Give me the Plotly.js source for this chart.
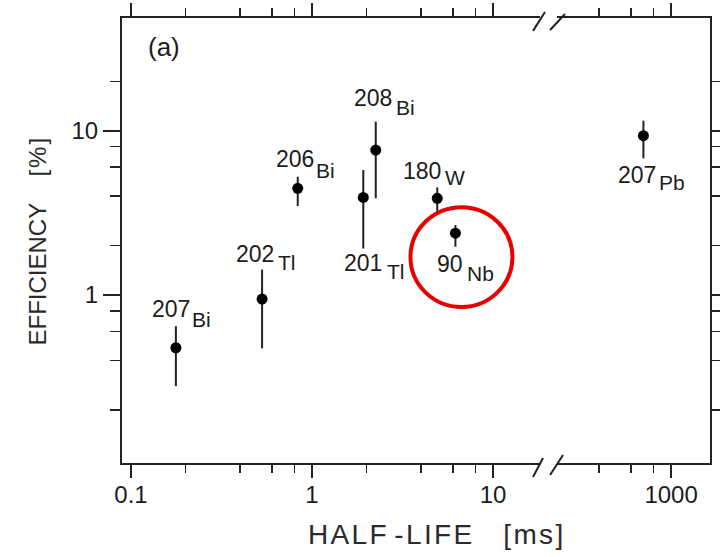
<!DOCTYPE html>
<html>
<head>
<meta charset="utf-8">
<script src="https://cdn.plot.ly/plotly-3.0.1.min.js"></script>
<style>
  html, body { margin: 0; padding: 0; background: #fff; }
  #chart { width: 720px; height: 557px; }
</style>
</head>
<body>
<div id="chart"></div>
<script>
// Isotopes, half-lives [ms] and efficiencies [%] with error-bar bounds
const massNumber = ['207', '202', '206', '201', '208', '180', '90', '207'];
const element    = ['Bi', 'Tl', 'Bi', 'Tl', 'Bi', 'W', 'Nb', 'Pb'];
const halfLife   = [0.177, 0.53, 0.834, 1.92, 2.25, 4.92, 6.2, 703];
const efficiency = [0.478, 0.946, 4.46, 3.93, 7.63, 3.88, 2.38, 9.33];
const effUpper   = [0.647, 1.43, 5.25, 5.77, 11.35, 4.52, 2.67, 11.5];
const effLower   = [0.279, 0.474, 3.48, 1.92, 3.88, 3.15, 1.97, 6.79];

// Axis ticks
const xMajorLeft  = [0.1, 1, 10];
const xMinorLeft  = [0.2, 0.4, 0.6, 0.8, 2, 4, 6, 8];
const xMajorRight = [1000];
const xMinorRight = [400, 600, 800];
const yMajor      = [1, 10];
const yMinor      = [0.2, 0.4, 0.6, 0.8, 2, 4, 6, 8, 20];

// Label placement in pixels relative to each point: mass number (right edge, centre)
// and element symbol (left edge, centre)
const numOffset = [[15, -39], [13, -45], [17, -29], [20, 66], [17, -52], [5, -27], [9, 31], [14, 39]];
const symOffset = [[15, -28], [15, -37], [17, -18], [23, 74], [19, -43], [7, -21], [11, 40], [15, 47]];

// The x axis is broken between the two decades shown
const breakAt = 20;

const FONT = 'Liberation Sans, Arial, sans-serif';
const INK = '#1c1c1c';

// letter-spaced caption text
const HS = '\u200A';
const spaced = s => s.split('').join(HS);

function subset(pred) {
  const idx = halfLife.map((v, i) => i).filter(i => pred(halfLife[i]));
  return {
    x: idx.map(i => halfLife[i]),
    y: idx.map(i => efficiency[i]),
    up: idx.map(i => effUpper[i] - efficiency[i]),
    dn: idx.map(i => efficiency[i] - effLower[i])
  };
}

function pointTrace(s, xa, ya) {
  return {
    type: 'scatter', mode: 'markers', x: s.x, y: s.y, xaxis: xa, yaxis: ya,
    marker: { color: '#000', size: 11 },
    error_y: { type: 'data', symmetric: false, array: s.up, arrayminus: s.dn,
               color: '#222', thickness: 2, width: 0 },
    hoverinfo: 'x+y', showlegend: false
  };
}

const left = subset(v => v < breakAt);
const right = subset(v => v >= breakAt);

const data = [pointTrace(left, 'x', 'y'), pointTrace(right, 'x2', 'y2')];

const annotations = [];
halfLife.forEach((hl, i) => {
  const xr = hl < breakAt ? 'x' : 'x2';
  const yr = hl < breakAt ? 'y' : 'y2';
  annotations.push({
    xref: xr, yref: yr, x: Math.log10(hl), y: Math.log10(efficiency[i]),
    text: massNumber[i], showarrow: false, xanchor: 'right', yanchor: 'middle',
    xshift: numOffset[i][0], yshift: -numOffset[i][1], borderpad: 0,
    font: { family: FONT, size: 23, color: INK }
  });
  annotations.push({
    xref: xr, yref: yr, x: Math.log10(hl), y: Math.log10(efficiency[i]),
    text: element[i], showarrow: false, xanchor: 'left', yanchor: 'middle',
    xshift: symOffset[i][0], yshift: -symOffset[i][1], borderpad: 0,
    font: { family: FONT, size: 21, color: INK }
  });
});

// Panel tag and axis titles
annotations.push({
  xref: 'paper', yref: 'paper', x: 0.0714, y: 0.935, xanchor: 'center', yanchor: 'middle',
  text: '(a)', showarrow: false, font: { family: FONT, size: 26, color: INK }
});
annotations.push({
  xref: 'paper', yref: 'paper', x: 0.534, y: -0.16, xanchor: 'center', yanchor: 'middle',
  text: spaced('HALF') + ' ' + spaced('-LIFE') + '    ' + spaced('[ms]'),
  showarrow: false, font: { family: FONT, size: 28, color: '#2a2a2a' }
});
annotations.push({
  xref: 'paper', yref: 'paper', x: -0.1437, y: 0.4966, xanchor: 'center', yanchor: 'middle',
  text: 'EFFICIENCY    ' + spaced('[%]'), textangle: -90, showarrow: false,
  font: { family: FONT, size: 24, color: '#2a2a2a' }
});

const tickFont = { family: FONT, size: 24, color: INK };
const lineStyle = { showline: true, linewidth: 2, linecolor: '#222', showgrid: false,
                    zeroline: false, ticks: 'outside', tickwidth: 2, tickcolor: '#222' };

function minor(vals, len) {
  return { tickmode: 'array', tickvals: vals, ticks: 'outside', ticklen: len,
           tickwidth: 1.5, tickcolor: '#222', showgrid: false };
}

const layout = {
  width: 720, height: 557,
  margin: { l: 122, r: 10, t: 18, b: 94 },
  paper_bgcolor: '#fff', plot_bgcolor: '#fff',
  xaxis: Object.assign({}, lineStyle, {
    type: 'log', domain: [0, 0.711], range: [-1.0497, 1.26], anchor: 'y',
    tickmode: 'array', tickvals: xMajorLeft, ticktext: xMajorLeft.map(String),
    ticklen: 13, ticklabelstandoff: -4, mirror: 'ticks', tickfont: tickFont,
    minor: minor(xMinorLeft, 8)
  }),
  xaxis2: Object.assign({}, lineStyle, {
    type: 'log', domain: [0.74, 1], range: [2.37, 3.215], anchor: 'y2',
    tickmode: 'array', tickvals: xMajorRight, ticktext: xMajorRight.map(String),
    ticklen: 13, ticklabelstandoff: -4, mirror: 'ticks', tickfont: tickFont,
    minor: minor(xMinorRight, 8)
  }),
  yaxis: Object.assign({}, lineStyle, {
    type: 'log', range: [-1.022, 1.686], anchor: 'x',
    tickmode: 'array', tickvals: yMajor, ticktext: yMajor.map(String),
    ticklen: 17, tickfont: tickFont, minor: minor(yMinor, 10)
  }),
  yaxis2: Object.assign({}, lineStyle, {
    type: 'log', range: [-1.022, 1.686], anchor: 'x2', side: 'right', matches: 'y',
    tickmode: 'array', tickvals: yMajor, showticklabels: false,
    ticklen: 10, minor: minor(yMinor, 10)
  }),
  annotations: annotations,
  shapes: [
    // axis-break marks, top and bottom
    { type: 'line', xref: 'paper', yref: 'paper', x0: 0.699, y0: 0.971, x1: 0.7194, y1: 1.0135, line: { color: '#222', width: 2 } },
    { type: 'line', xref: 'paper', yref: 'paper', x0: 0.728, y0: 0.973, x1: 0.7534, y1: 1.009, line: { color: '#222', width: 2 } },
    { type: 'line', xref: 'paper', yref: 'paper', x0: 0.699, y0: -0.0315, x1: 0.716, y1: 0.0112, line: { color: '#222', width: 2 } },
    { type: 'line', xref: 'paper', yref: 'paper', x0: 0.728, y0: -0.027, x1: 0.75, y1: 0.018, line: { color: '#222', width: 2 } },
    // highlight ring around 90Nb
    { type: 'circle', xref: 'paper', yref: 'paper', x0: 0.4906, x1: 0.664, y0: 0.3506, y1: 0.575,
      line: { color: '#e80000', width: 4 } }
  ]
};

Plotly.newPlot('chart', data, layout, { displayModeBar: false, staticPlot: true });
</script>
</body>
</html>
